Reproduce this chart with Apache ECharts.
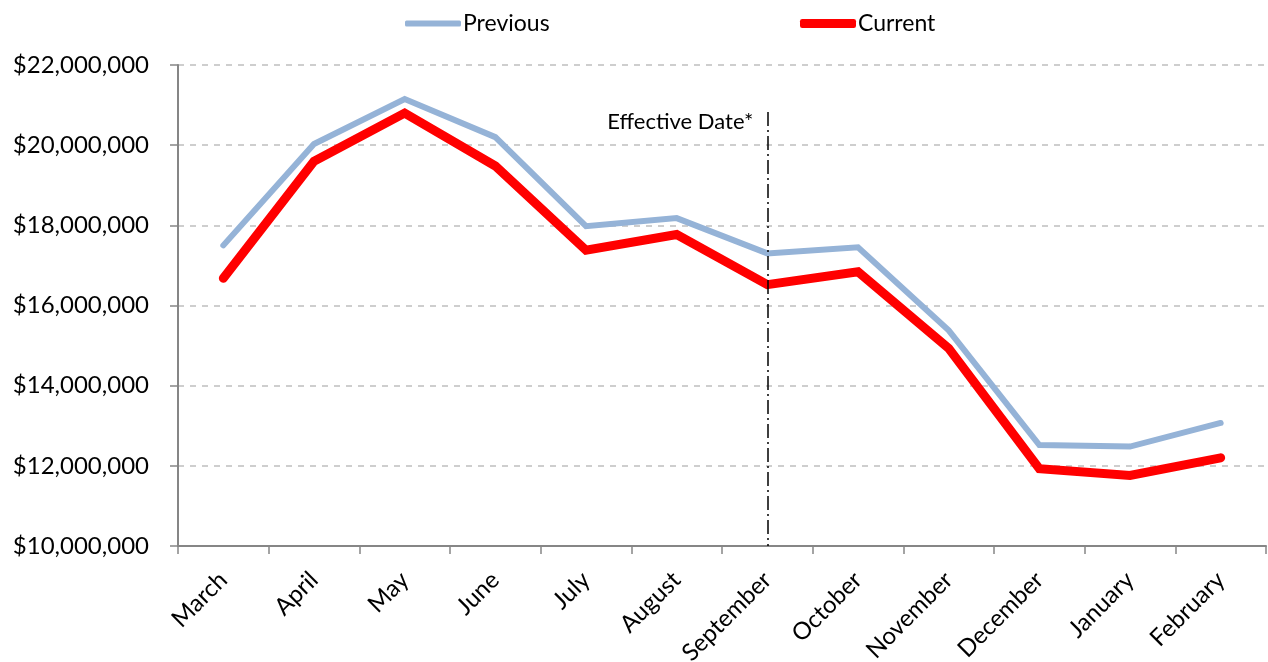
<!DOCTYPE html>
<html>
<head>
<meta charset="utf-8">
<script src="https://cdn.jsdelivr.net/npm/echarts@6/dist/echarts.min.js"></script>
<style>
html,body{margin:0;padding:0;background:#fff;}
#chart{width:1268px;height:662px;}
</style>
</head>
<body>
<div id="chart"></div>
<script>
const categories = ['March','April','May','June','July','August','September','October','November','December','January','February'];
const previousValues = [17500000, 20030000, 21150000, 20200000, 17980000, 18180000, 17300000, 17450000, 15380000, 12520000, 12480000, 13070000];
const currentValues = [16680000, 19600000, 20800000, 19480000, 17380000, 17770000, 16520000, 16840000, 14930000, 11930000, 11760000, 12200000];
const effectiveCategory = 'September';
const effectiveLabel = 'Effective Date*';
const effectiveTop = 20830000;
const yMin = 10000000, yMax = 22000000, yStep = 2000000;

const FONT = 'Lato, "Open Sans", sans-serif';
const chart = echarts.init(document.getElementById('chart'), null, {renderer:'canvas'});
function fmt(v){ return '$' + v.toLocaleString('en-US'); }
const legendText = {fontSize:23, color:'#000', fontFamily:FONT, padding:[0,0,0,-3]};
chart.setOption({
  animation:false,
  backgroundColor:'#fff',
  textStyle:{fontFamily:FONT},
  legend:[
    {top:7, left:400, itemWidth:56, itemHeight:6, icon:'roundRect',
     textStyle:legendText, data:['Previous']},
    {top:7, left:795, itemWidth:56, itemHeight:9, icon:'roundRect',
     textStyle:legendText, data:['Current']}
  ],
  grid:{left:178, right:2, top:65, bottom:116, containLabel:false, outerBoundsMode:'none'},
  xAxis:{
    type:'category', data:categories, boundaryGap:true,
    axisLine:{lineStyle:{color:'#868686', width:2}},
    axisTick:{show:true, alignWithLabel:false, length:8, lineStyle:{color:'#868686', width:1.5}},
    axisLabel:{rotate:45, fontSize:24, color:'#000', fontFamily:FONT, margin:30, interval:0}
  },
  yAxis:{
    type:'value', min:yMin, max:yMax, interval:yStep,
    axisLine:{show:true, lineStyle:{color:'#868686', width:2}},
    axisTick:{show:true, length:8, lineStyle:{color:'#868686', width:1.5}},
    axisLabel:{formatter:fmt, fontSize:24, color:'#000', fontFamily:FONT, margin:29},
    splitLine:{lineStyle:{color:'#BFBFBF', type:[6,6], width:1.5}}
  },
  series:[
    {name:'Previous', type:'line', data:previousValues, symbol:'none',
     lineStyle:{color:'#95B3D7', width:6, cap:'round', join:'miter'}, itemStyle:{color:'#95B3D7'}},
    {name:'Current', type:'line', data:currentValues, symbol:'none',
     lineStyle:{color:'#FF0000', width:9, cap:'round', join:'miter'}, itemStyle:{color:'#FF0000'},
     markLine:{
       silent:true, symbol:['none','none'],
       lineStyle:{color:'#000', width:1.5, type:[14,4,2,4]},
       label:{show:false},
       data:[[{xAxis:effectiveCategory, yAxis:effectiveTop},{xAxis:effectiveCategory, yAxis:yMin}]]
     }}
  ]
});
const p = chart.convertToPixel({seriesIndex:1}, [effectiveCategory, effectiveTop]);
chart.setOption({
  graphic:[{type:'text', x:p[0]-14, y:p[1]+10,
    style:{text:effectiveLabel, fill:'#000', font:'22px ' + FONT, textAlign:'right', textVerticalAlign:'middle'}}]
});
</script>
</body>
</html>
